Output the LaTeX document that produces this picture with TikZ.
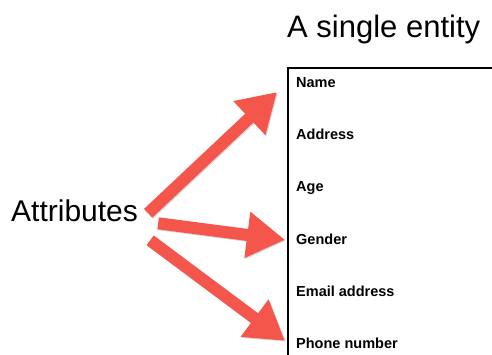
\documentclass[tikz,border=0pt]{standalone}
\usepackage{fontspec}
\setmainfont{Liberation Sans}
\usepackage{tikz}
\usetikzlibrary{positioning, arrows.meta}

\definecolor{arrowred}{RGB}{245,86,76}

\tikzset{
    attrarrow/.style={draw=arrowred, line width=12pt, -{Triangle[length=38pt, width=44pt]}},
    arrowshadow/.style={draw=black!35, line width=12pt, -{Triangle[length=38pt, width=44pt]}, opacity=0.45},
    item/.style={inner sep=0pt, anchor=base west, font=\fontsize{14.5}{18}\selectfont\bfseries},
}

\begin{document}
\begin{tikzpicture}[x=1pt, y=-1pt, >=Latex]
        \useasboundingbox (0,0) rectangle (492,355);
        \clip (0,0) rectangle (492,355);

        % Nodes
        \node (title) [inner sep=0pt, anchor=base west, font=\fontsize{31}{36}\selectfont] at (287,38) {A single entity};
        \node (entity) [draw, line width=2.2pt, anchor=north west, minimum width=260pt, minimum height=320pt] at (287,67) {};
        \node (attr) [inner sep=0pt, anchor=base west, font=\fontsize{30}{36}\selectfont] at (11,222) {Attributes};

        \node (name) [item] at (296,88) {Name};
        \node (address) [item] at (296,140) {Address};
        \node (age) [item] at (296,192) {Age};
        \node (gender) [item] at (296,244) {Gender};
        \node (email) [item] at (296,296) {Email address};
        \node (phone) [item] at (296,348) {Phone number};

        % Shadows
        \draw[arrowshadow] ([shift={(11pt,-3pt)}]attr.east) -- ([shift={(-18pt,-10pt)}]name.west);
        \draw[arrowshadow] ([shift={(21pt,-13pt)}]attr.east) -- ([shift={(-10pt,-2pt)}]gender.west);
        \draw[arrowshadow] ([shift={(13pt,-30pt)}]attr.east) -- ([shift={(-10pt,1pt)}]phone.west);

        % Arrows
        \draw[attrarrow] ([shift={(10pt,-2pt)}]attr.east) -- ([shift={(-19pt,-9pt)}]name.west);
        \draw[attrarrow] ([shift={(20pt,-12pt)}]attr.east) -- ([shift={(-11pt,-1pt)}]gender.west);
        \draw[attrarrow] ([shift={(12pt,-29pt)}]attr.east) -- ([shift={(-11pt,2pt)}]phone.west);

    \end{tikzpicture}
\end{document}
